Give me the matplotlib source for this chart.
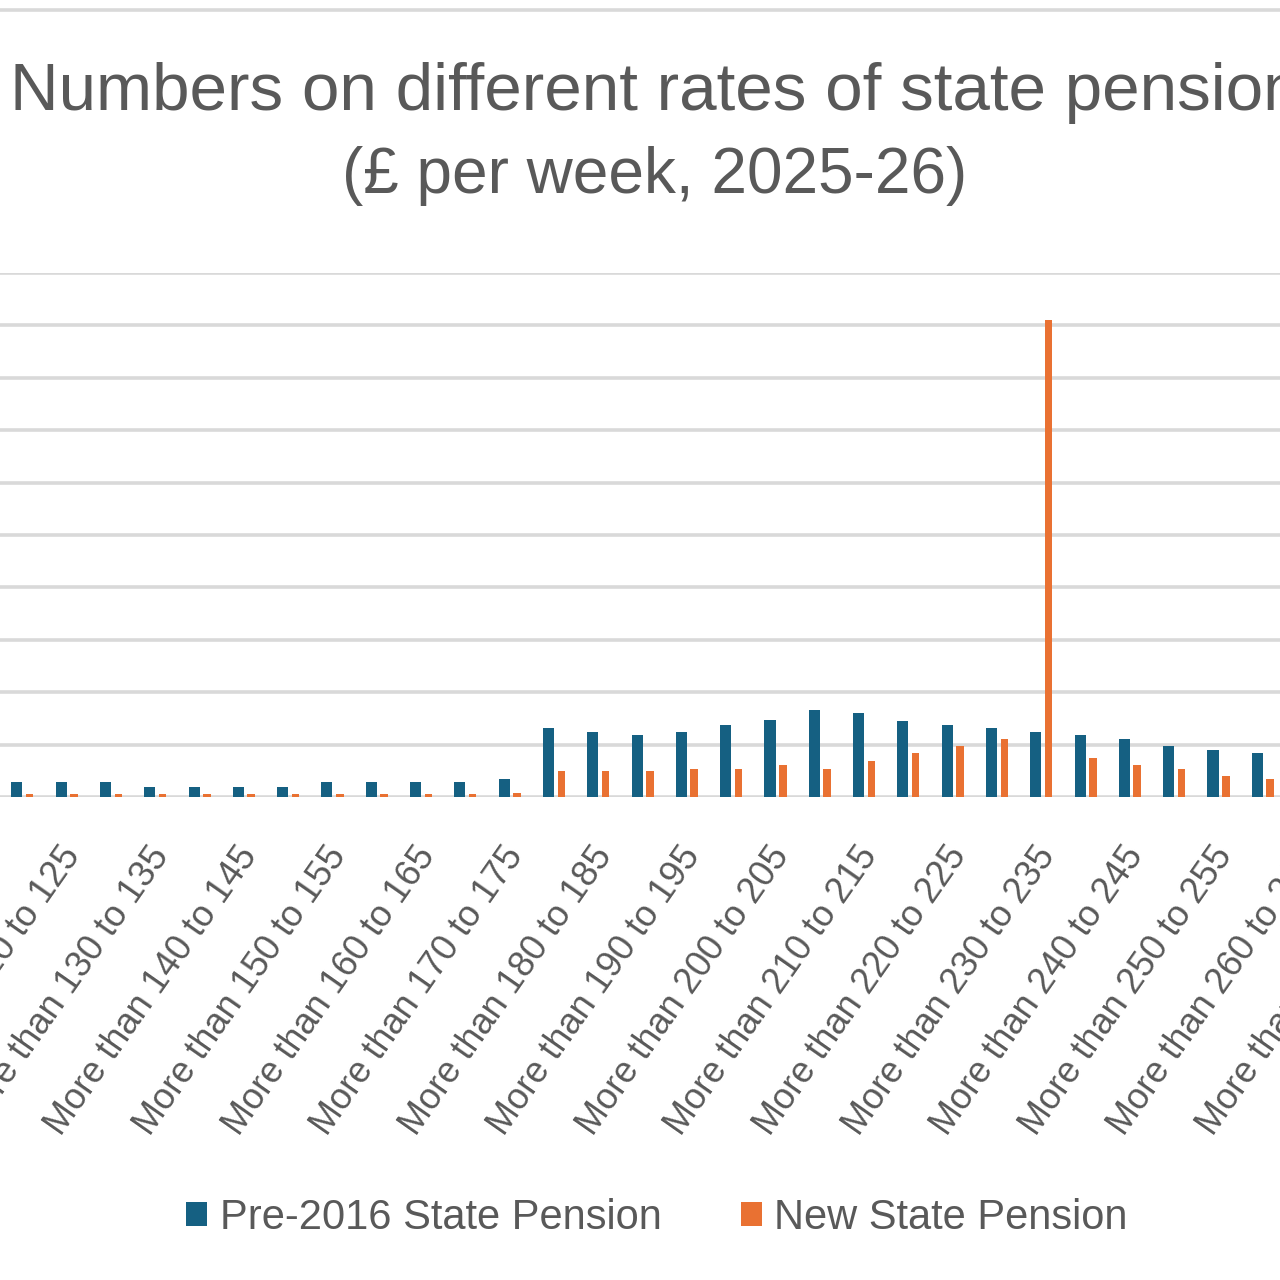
import numpy as np
import matplotlib.pyplot as plt
from matplotlib.lines import Line2D
from matplotlib.transforms import ScaledTranslation

plt.rcParams['font.family'] = ['Liberation Sans', 'DejaVu Sans']

# weekly rate bands (only part of the chart is visible in the crop)
bands = [
    "More than 115 to 120", "More than 120 to 125", "More than 125 to 130",
    "More than 130 to 135", "More than 135 to 140", "More than 140 to 145",
    "More than 145 to 150", "More than 150 to 155", "More than 155 to 160",
    "More than 160 to 165", "More than 165 to 170", "More than 170 to 175",
    "More than 175 to 180", "More than 180 to 185", "More than 185 to 190",
    "More than 190 to 195", "More than 195 to 200", "More than 200 to 205",
    "More than 205 to 210", "More than 210 to 215", "More than 215 to 220",
    "More than 220 to 225", "More than 225 to 230", "More than 230 to 235",
    "More than 235 to 240", "More than 240 to 245", "More than 245 to 250",
    "More than 250 to 255", "More than 255 to 260", "More than 260 to 265",
    "More than 265 to 270", "More than 270 to 275",
]

# numbers of people (thousands, estimated); nan = outside the visible crop
pre2016 = [72, 72, 72, 50, 50, 50, 50, 72, 72, 72, 72, 88,
           330, 312, 297, 310, 345, 365, 415, 402, 362, 345, 330, 310,
           295, 275, 242, 225, 208, np.nan, np.nan, np.nan]
new_sp = [15, 12, 12, 12, 15, 15, 15, 15, 15, 15, 15, 20,
          125, 125, 125, 135, 135, 155, 135, 170, 208, 245, 275, 2275,
          188, 155, 135, 98, 88, np.nan, np.nan, np.nan]

blue = '#156082'
orange = '#E97132'
grey_txt = '#595959'
grid_col = '#d9d9d9'

fig = plt.figure(figsize=(12.8, 12.8), dpi=100)

# axes runs off the right edge of the figure, like the cropped original
ax = fig.add_axes([0, 1 - 797 / 1280, 1.1117, (797 - 273) / 1280])
x = np.arange(len(bands))
ax.bar(x - 0.14, pre2016, width=0.25, color=blue, zorder=3, label='Pre-2016 State Pension')
ax.bar(x + 0.15, new_sp, width=0.17, color=orange, zorder=3, label='New State Pension')

ax.set_xlim(-0.52, 31.6)
ax.set_ylim(0, 2500)
ax.set_yticks(np.arange(0, 2501, 250))
ax.yaxis.grid(True, color=grid_col, linewidth=2.6, zorder=0)
ax.tick_params(axis='y', left=False, labelleft=False)
for s in ax.spines.values():
    s.set_visible(False)

ax.set_xticks(x[1::2])
ax.set_xticklabels(bands[1::2], rotation=55, ha='right', va='center',
                   rotation_mode='anchor', fontsize=26, color=grey_txt)
ax.tick_params(axis='x', length=0, pad=0)
off = ScaledTranslation(0.06, -0.53, fig.dpi_scale_trans)
for lab in ax.get_xticklabels():
    lab.set_transform(lab.get_transform() + off)

# title
fig.text(655 / 1280, 1 - 110 / 1280, "Numbers on different rates of state pension",
         ha='center', va='baseline', fontsize=48.5, color=grey_txt)
fig.text(655 / 1280, 1 - 193 / 1280, "(£ per week, 2025-26)",
         ha='center', va='baseline', fontsize=46, color=grey_txt)

# thin frame line at the very top
fig.add_artist(Line2D([0, 1], [1 - 10 / 1280] * 2, color=grid_col, linewidth=2.6))

handles, labels = ax.get_legend_handles_labels()
fig.legend(handles, labels, loc='center', bbox_to_anchor=(657 / 1280, 1 - 1218 / 1280),
           ncol=2, frameon=False, fontsize=30, labelcolor=grey_txt,
           handlelength=0.5, handleheight=0.5, handletextpad=0.3, columnspacing=1.9)

fig.savefig('out.png', dpi=100)
